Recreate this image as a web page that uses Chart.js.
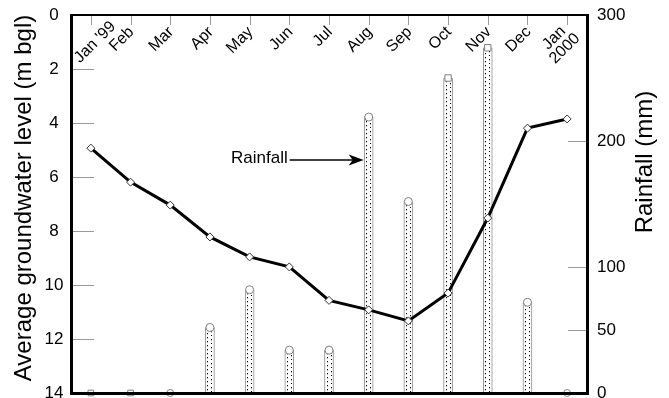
<!DOCTYPE html>
<html>
<head>
<meta charset="utf-8">
<script src="https://cdn.jsdelivr.net/npm/chart.js@4.4.1/dist/chart.umd.min.js"></script>
<style>
  html, body { margin: 0; padding: 0; background: #ffffff; }
  #wrap { width: 669px; height: 398px; }
</style>
</head>
<body>
<div id="wrap"><canvas id="c" width="669" height="398"></canvas></div>
<script>
// ---- data ----
const months = ["Jan '99", "Feb", "Mar", "Apr", "May", "Jun", "Jul", "Aug", "Sep", "Oct", "Nov", "Dec", ["Jan", "2000"]];
const groundwaterLevel = [4.93, 6.19, 7.04, 8.22, 8.96, 9.33, 10.57, 10.92, 11.33, 10.30, 7.52, 4.19, 3.85];
const rainfall = [0, 0, 0, 52, 82, 34, 34, 219, 152, 250, 274, 72, 0];
const levelTicks = [0, 2, 4, 6, 8, 10, 12, 14];
const rainTicks = [0, 50, 100, 200, 300];
const annotationText = "Rainfall";
const annotationMonth = 7;      // Aug
const annotationRain = 185;     // mm, height of the arrow

const FONT = "'Liberation Sans', Arial, Helvetica, sans-serif";

function dotPattern(ctx) {
  const chart = ctx.chart;
  if (!chart.chartArea || !chart.scales.x) return '#ffffff';
  const x = chart.scales.x.getPixelForValue(ctx.dataIndex);
  const c = document.createElement('canvas');
  c.width = 9; c.height = 8;
  const g = c.getContext('2d');
  g.fillStyle = '#ffffff'; g.fillRect(0, 0, 9, 8);
  g.fillStyle = '#000000';
  g.fillRect(2, 1, 1, 1.3); g.fillRect(6, 3, 1, 1.3);
  g.fillRect(2, 5, 1, 1.3); g.fillRect(6, 7, 1, 1.3);
  const p = chart.ctx.createPattern(c, 'repeat');
  if (p.setTransform) p.setTransform(new DOMMatrix().translate(Math.round(x - 4.5), 0));
  return p;
}

function noPad(s) { s.paddingTop = 0; s.paddingBottom = 0; }

function resetCtx(ctx) {
  ctx.setTransform(1, 0, 0, 1, 0, 0);
  ctx.globalAlpha = 1;
  ctx.globalCompositeOperation = 'source-over';
  ctx.setLineDash([]);
}

const deco = {
  id: 'deco',
  beforeDatasetsDraw(chart) {
    const ctx = chart.ctx, a = chart.chartArea, scales = chart.scales;
    ctx.save();
    resetCtx(ctx);
    ctx.fillStyle = '#9a9a9a';
    levelTicks.forEach(v => {
      const y = Math.round(scales.y.getPixelForValue(v));
      ctx.fillRect(a.left, y, 23, 1);
    });
    rainTicks.forEach(v => {
      const y = Math.round(scales.y2.getPixelForValue(v));
      ctx.fillRect(a.right - 19, y, 19, 1);
    });
    months.forEach((m, i) => {
      const x = Math.round(scales.x.getPixelForValue(i));
      ctx.fillRect(x, a.top, 1, 10);
    });
    ctx.restore();
  },
  afterDraw(chart) {
    const ctx = chart.ctx, a = chart.chartArea, scales = chart.scales;
    ctx.save();
    resetCtx(ctx);
    // plot frame
    ctx.fillStyle = '#000000';
    const L = Math.round(a.left), R = Math.round(a.right), T = Math.round(a.top), B = Math.round(a.bottom);
    ctx.fillRect(L - 1, T - 1, R - L + 3, 2);
    ctx.fillRect(L - 1, B - 1, R - L + 3, 3);
    ctx.fillRect(L - 1, T - 1, 3, B - T + 3);
    ctx.fillRect(R - 1, T - 1, 3, B - T + 3);

    // month labels, rotated, inside the frame
    ctx.fillStyle = '#000';
    ctx.font = '16px ' + FONT;
    ctx.textBaseline = 'middle';
    const ang = -Math.PI / 4;
    const step = 15 * Math.SQRT1_2;
    months.forEach((m, i) => {
      const t = scales.x.getPixelForValue(i);
      if (Array.isArray(m)) {
        ctx.textAlign = 'center';
        m.forEach((line, k) => {
          ctx.save();
          ctx.translate(t - 13 + k * step, a.top + 23 + k * step);
          ctx.rotate(ang);
          ctx.fillText(line, 0, 0);
          ctx.restore();
        });
      } else {
        ctx.textAlign = 'right';
        const w = ctx.measureText(m).width;
        let ax = t + 1, ay = a.top + 14.5;
        const minAx = a.left + 2 + w * Math.SQRT1_2 + 4;
        if (ax < minAx) { const s = minAx - ax; ax = minAx; ay -= s * 0.25; }
        ctx.save();
        ctx.translate(ax, ay);
        ctx.rotate(ang);
        ctx.fillText(m, 0, 0);
        ctx.restore();
      }
    });

    // axis titles
    ctx.font = '24px ' + FONT;
    ctx.textAlign = 'center';
    ctx.textBaseline = 'alphabetic';
    ctx.save();
    ctx.translate(31, 198);
    ctx.rotate(-Math.PI / 2);
    ctx.fillText('Average groundwater level (m bgl)', 0, 0);
    ctx.restore();
    ctx.save();
    ctx.translate(652, 162);
    ctx.rotate(-Math.PI / 2);
    ctx.fillText('Rainfall (mm)', 0, 0);
    ctx.restore();

    // "Rainfall" arrow annotation
    const tipX = scales.x.getPixelForValue(annotationMonth) - 5;
    const yA = scales.y2.getPixelForValue(annotationRain);
    ctx.strokeStyle = '#000';
    ctx.lineWidth = 1.5;
    ctx.beginPath();
    ctx.moveTo(tipX - 74, yA); ctx.lineTo(tipX - 8, yA);
    ctx.stroke();
    ctx.beginPath();
    ctx.moveTo(tipX, yA);
    ctx.lineTo(tipX - 15, yA - 5.5);
    ctx.lineTo(tipX - 11, yA);
    ctx.lineTo(tipX - 15, yA + 5.5);
    ctx.closePath();
    ctx.fillStyle = '#000';
    ctx.fill();
    ctx.font = '17px ' + FONT;
    ctx.textAlign = 'right';
    ctx.textBaseline = 'alphabetic';
    ctx.fillText(annotationText, tipX - 76, yA + 3);
    ctx.restore();
  }
};

new Chart(document.getElementById('c'), {
  type: 'bar',
  data: {
    labels: months,
    datasets: [
      {
        type: 'line',
        label: 'Average groundwater level',
        data: groundwaterLevel,
        yAxisID: 'y',
        order: 0,
        borderColor: '#000',
        borderWidth: 3,
        tension: 0,
        pointStyle: 'rectRot',
        pointRadius: 4,
        pointBackgroundColor: '#ffffff',
        pointBorderColor: '#333',
        pointBorderWidth: 1,
        clip: false
      },
      {
        type: 'line',
        label: 'Rainfall markers',
        data: rainfall,
        yAxisID: 'y2',
        order: 1,
        showLine: false,
        pointStyle: ['rect', 'rect', 'circle', 'circle', 'circle', 'circle', 'circle', 'circle', 'circle', 'rect', 'rect', 'circle', 'circle'],
        pointRadius: [4, 4, 3.5, 4, 4, 4, 4, 4, 4, 4.5, 4.5, 4, 3.5],
        pointBackgroundColor: '#ffffff',
        pointBorderColor: '#808080',
        pointBorderWidth: 1,
        clip: false
      },
      {
        type: 'bar',
        label: 'Rainfall',
        data: rainfall,
        yAxisID: 'y2',
        order: 2,
        barThickness: 9,
        backgroundColor: dotPattern,
        borderColor: '#8c8c8c',
        borderWidth: 1,
        borderSkipped: false
      }
    ]
  },
  options: {
    responsive: false,
    animation: false,
    devicePixelRatio: 1,
    layout: { padding: { top: 15, bottom: 5, left: 0, right: 0 } },
    plugins: { legend: { display: false }, tooltip: { enabled: false }, title: { display: false } },
    scales: {
      x: { type: 'category', display: false, offset: true },
      y: {
        position: 'left',
        reverse: true,
        min: 0, max: 14,
        afterBuildTicks: s => { s.ticks = levelTicks.map(v => ({ value: v })); },
        afterFit: s => { s.width = 71; noPad(s); },
        grid: { display: false, drawTicks: false },
        border: { display: false },
        ticks: { color: '#000', font: { family: FONT, size: 17 }, padding: 7.5, crossAlign: 'center' }
      },
      y2: {
        position: 'right',
        min: 0, max: 300,
        afterBuildTicks: s => { s.ticks = rainTicks.map(v => ({ value: v })); },
        afterFit: s => { s.width = 82; noPad(s); },
        grid: { display: false, drawTicks: false },
        border: { display: false },
        ticks: { color: '#000', font: { family: FONT, size: 17 }, padding: 10, crossAlign: 'near' }
      }
    }
  },
  plugins: [deco]
});
</script>
</body>
</html>
